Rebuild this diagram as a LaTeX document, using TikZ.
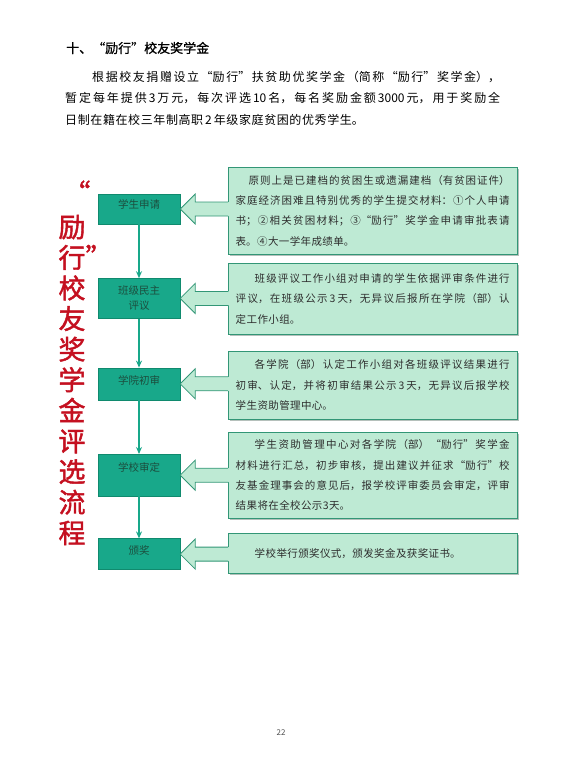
\documentclass[tikz,border=0pt]{standalone}
\usepackage{fontspec}
\setmainfont{Noto Sans CJK SC}
\newfontfamily\heavycjk[FakeBold=1.6]{Noto Sans CJK SC}
\newfontfamily\headcjk[FakeBold=0.8]{Noto Sans CJK SC}
\usepackage{xcolor}
\definecolor{stepfill}{RGB}{24,168,138}
\definecolor{stepline}{RGB}{16,138,110}
\definecolor{steptext}{RGB}{28,78,62}
\definecolor{mint}{RGB}{190,234,212}
\definecolor{mintline}{RGB}{50,150,118}
\definecolor{shadowgray}{RGB}{150,165,158}
\definecolor{titlered}{RGB}{196,16,32}
\definecolor{bodytext}{RGB}{45,45,45}
\usepackage{tikz}
\usetikzlibrary{arrows.meta,positioning,shadows,calc}
\XeTeXlinebreaklocale "zh"
\XeTeXlinebreakskip=0pt plus 1pt\relax
\newcommand{\introspread}{\XeTeXlinebreakskip=0.6pt plus 3pt\relax}
\newcommand{\notespread}{\XeTeXlinebreakskip=0.4pt plus 3pt\relax}
\newcommand{\num}[1]{\kern2pt#1\kern2pt}

% block arrow from a note box back to its step box
\newcommand{\feedarrow}[2]{%
  \fill[mint] (#1.east) -- ($(#1.east)+(15,-15)$) -- ($(#1.east)+(15,-7)$) -- ($(#1.east -| #2.west)+(1.5,-7)$)
    -- ($(#1.east -| #2.west)+(1.5,7)$) -- ($(#1.east)+(15,7)$) -- ($(#1.east)+(15,15)$) -- cycle;
  \draw[arrowline] ($(#1.east -| #2.west)+(0,-7)$) -- ($(#1.east)+(15,-7)$) -- ($(#1.east)+(15,-15)$) -- (#1.east)
    -- ($(#1.east)+(15,15)$) -- ($(#1.east)+(15,7)$) -- ($(#1.east -| #2.west)+(0,7)$);
}

\begin{document}
\begin{tikzpicture}[
  x=1pt, y=-1pt,
  stepbox/.style={draw=stepline, fill=stepfill, text=steptext, minimum width=82pt, inner sep=0pt,
    align=center, font=\fontsize{10.5pt}{15pt}\selectfont},
  note/.style={draw=mintline, fill=mint, text=bodytext, text width=274pt, inner xsep=7.5pt, inner ysep=0pt,
    align=justify, anchor=north west, font=\fontsize{10.5pt}{20.3pt}\selectfont\notespread,
    drop shadow={shadow xshift=1.5pt, shadow yshift=-1.5pt, fill=shadowgray, opacity=0.7}},
  flow/.style={-{Stealth[length=7pt,width=6pt]}, line width=1.4pt, color=stepfill},
  arrowline/.style={draw=mintline, line width=0.8pt, line join=miter}
]
\useasboundingbox (0,0) rectangle (565,768);

% heading and introduction
\node[anchor=west, inner sep=0pt, font=\headcjk\fontsize{13pt}{16pt}\selectfont] (head) at (66,48) {十、“励行”校友奖学金};
\node[anchor=north west, inner sep=0pt, text width=435pt, align=justify,
  font=\fontsize{12pt}{21.5pt}\selectfont\introspread] (intro) at (65,71)
  {\hspace*{27pt}根据校友捐赠设立“励行”扶贫助优奖学金（简称“励行”奖学金），\linebreak 暂定每年提供\num{3}万元，每次评选\num{10}名，每名奖励金额\num{3000}元，用于奖励全\linebreak 日制在籍在校三年制高职\num{2}年级家庭贫困的优秀学生。};

% vertical title
\node[text=titlered, inner sep=0pt, font=\heavycjk\fontsize{27pt}{30pt}\selectfont] (quote) at (77,192) {“};
\node[text=titlered, inner sep=0pt, align=center, font=\heavycjk\fontsize{27pt}{30.6pt}\selectfont] (title) at (72,380)
  {励\\行\rlap{”}\\校\\友\\奖\\学\\金\\评\\选\\流\\程};

% process steps
\node[stepbox, minimum height=30pt, text depth=9pt] (apply) at (139,209) {学生申请};
\node[stepbox, minimum height=40pt, below=54pt of apply] (class) {班级民主\\评议};
\node[stepbox, minimum height=32pt, text depth=7pt, below=49pt of class] (college) {学院初审};
\node[stepbox, minimum height=42pt, text depth=17pt, below=54pt of college] (school) {学校审定};
\node[stepbox, minimum height=31pt, text depth=8pt, below=42pt of school] (award) {颁奖};

\draw[flow] (apply) -- (class);
\draw[flow] (class) -- (college);
\draw[flow] (college) -- (school);
\draw[flow] (school) -- (award);

% notes
\node[note, minimum height=87pt] (n1) at (228,167)
  {\hspace*{13pt}原则上是已建档的贫困生或遗漏建档（有贫困证件）\linebreak 家庭经济困难且特别优秀的学生提交材料：①个人申请\linebreak 书；②相关贫困材料；③“励行”奖学金申请审批表请\linebreak 表。④大一学年成绩单。};
\node[note, minimum height=71pt] (n2) at (228,263)
  {\hspace*{19pt}班级评议工作小组对申请的学生依据评审条件进行\linebreak 评议，在班级公示\num{3}天，无异议后报所在学院（部）认\linebreak 定工作小组。};
\node[note, minimum height=68pt] (n3) at (228,351)
  {\hspace*{19pt}各学院（部）认定工作小组对各班级评议结果进行\linebreak 初审、认定，并将初审结果公示\num{3}天，无异议后报学校\linebreak 学生资助管理中心。};
\node[note, minimum height=86pt] (n4) at (228,432)
  {\hspace*{19pt}学生资助管理中心对各学院（部）“励行”奖学金\linebreak 材料进行汇总，初步审核，提出建议并征求“励行”校\linebreak 友基金理事会的意见后，报学校评审委员会审定，评审\linebreak 结果将在全校公示3天。};
\node[note, minimum height=40pt] (n5) at (228,533)
  {\hspace*{19pt}学校举行颁奖仪式，颁发奖金及获奖证书。};

\feedarrow{apply}{n1}
\feedarrow{class}{n2}
\feedarrow{college}{n3}
\feedarrow{school}{n4}
\feedarrow{award}{n5}

% page number
\node[text=black!70, inner sep=0pt, font=\fontsize{8pt}{10pt}\selectfont] (page) at (281,733) {22};
\end{tikzpicture}
\end{document}
